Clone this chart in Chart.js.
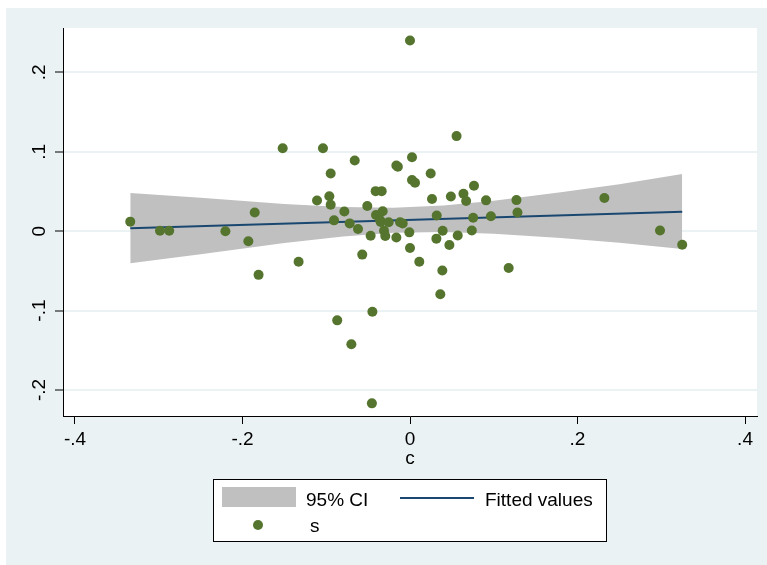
<!DOCTYPE html>
<html>
<head>
<meta charset="utf-8">
<script src="https://cdn.jsdelivr.net/npm/chart.js@4.4.1/dist/chart.umd.min.js"></script>
<style>
  html, body { margin: 0; padding: 0; background: #ffffff; }
  canvas { display: block; }
</style>
</head>
<body>
<canvas id="chart" width="767" height="565"></canvas>
<script>
// Observations: s plotted against c
const cValues = [
  -0.334, -0.2985, -0.2875, -0.2204, -0.193, -0.1854, -0.1808, -0.152, -0.133, -0.111,
  -0.1039, -0.0947, -0.0963, -0.0947, -0.0907, -0.0869, -0.0784, -0.072, -0.070, -0.066,
  -0.0621, -0.057, -0.051, -0.047, -0.0449, -0.0455, -0.041, -0.0338, -0.0406, -0.0326,
  -0.0358, -0.035, -0.0255, -0.031, -0.0295, -0.0163, -0.0145, -0.0163, -0.0119, -0.0087,
  -0.0008, 0.0, 0.0, 0.0024, 0.0024, 0.006, 0.0111, 0.0247, 0.0263, 0.0315,
  0.0319, 0.0362, 0.0386, 0.039, 0.047, 0.0488, 0.0556, 0.057, 0.0638, 0.067,
  0.0738, 0.0754, 0.0764, 0.0908, 0.0966, 0.1178, 0.1271, 0.1283, 0.2321, 0.2985,
  0.325
];
const sValues = [
  0.0120, 0.0005, 0.0005, 0.0, -0.0127, 0.0236, -0.055, 0.1045, -0.0385, 0.0387,
  0.1045, 0.0727, 0.044, 0.0332, 0.0136, -0.1123, 0.0247, 0.0098, -0.1423, 0.089,
  0.0027, -0.0295, 0.0316, -0.0057, -0.1014, -0.2168, 0.0504, 0.0504, 0.0203, 0.0250,
  0.0140, 0.0117, 0.0113, 0.0006, -0.0061, 0.0827, 0.0810, -0.008, 0.0113, 0.0098,
  -0.0015, 0.240, -0.0212, 0.0930, 0.0645, 0.061, -0.0384, 0.0727, 0.0406, -0.0094,
  0.0198, -0.0795, -0.0496, 0.0006, -0.0175, 0.0436, 0.1197, -0.0055, 0.0471, 0.0380,
  0.0008, 0.0168, 0.0571, 0.0388, 0.0188, -0.0464, 0.0391, 0.0236, 0.0418, 0.0008,
  -0.0172
];

// Linear fit end points
const fitC = [-0.334, 0.325];
const fitS = [0.0038, 0.0246];

// 95% confidence band edges
const bandC     = [-0.334, -0.25, -0.15, -0.08, -0.02, 0.04, 0.10, 0.18, 0.25, 0.325];
const bandUpper = [0.0480, 0.0420, 0.0343, 0.0304, 0.0296, 0.0324, 0.0384, 0.0489, 0.0591, 0.0721];
const bandLower = [-0.0405, -0.0290, -0.0149, -0.0066, -0.0020, -0.0010, -0.0032, -0.0087, -0.0145, -0.0226];

// Axis ticks
const xTickValues = [-0.4, -0.2, 0, 0.2, 0.4];
const xTickLabels = ['-.4', '-.2', '0', '.2', '.4'];
const yTickValues = [-0.2, -0.1, 0, 0.1, 0.2];
const yTickLabels = ['-.2', '-.1', '0', '.1', '.2'];

const FONT = '"Liberation Sans", Arial, Helvetica, sans-serif';
const BG = '#eaf2f3';
const NAVY = '#1a476f';
const GREEN = '#55752f';
const BAND = '#c0c0c0';

Chart.defaults.font.family = FONT;
Chart.defaults.font.size = 19;
Chart.defaults.color = '#000000';

const zip = (xs, ys) => xs.map((x, i) => ({ x: x, y: ys[i] }));

// Graph region and plot region backgrounds
const backgroundPlugin = {
  id: 'regions',
  beforeDraw(chart) {
    const { ctx, chartArea } = chart;
    ctx.save();
    ctx.fillStyle = '#ffffff';
    ctx.fillRect(0, 0, chart.width, chart.height);
    ctx.fillStyle = BG;
    ctx.fillRect(6, 8, chart.width - 6, chart.height - 8);
    ctx.fillStyle = '#ffffff';
    ctx.fillRect(chartArea.left, chartArea.top, chartArea.right - chartArea.left, chartArea.bottom - chartArea.top);
    ctx.restore();
  }
};

// Vertical (rotated) y tick labels and the boxed legend
const annotatePlugin = {
  id: 'annotate',
  afterDraw(chart) {
    const { ctx } = chart;
    const yScale = chart.scales.y;
    ctx.save();
    ctx.font = '19px ' + FONT;
    ctx.fillStyle = '#000000';
    ctx.textAlign = 'center';
    ctx.textBaseline = 'middle';
    yScale.ticks.forEach((t, i) => {
      const py = yScale.getPixelForValue(t.value);
      ctx.save();
      ctx.translate(40, py);
      ctx.rotate(-Math.PI / 2);
      ctx.fillText(yTickLabels[i], 0, 0);
      ctx.restore();
    });

    const ds = chart.data.datasets;
    // legend frame
    ctx.fillStyle = '#ffffff';
    ctx.fillRect(214, 480, 392, 61);
    ctx.strokeStyle = '#000000';
    ctx.lineWidth = 1;
    ctx.strokeRect(213.5, 479.5, 393, 62);
    // band key
    ctx.fillStyle = ds[2].backgroundColor;
    ctx.fillRect(222, 487, 74, 20);
    ctx.fillStyle = '#000000';
    ctx.textAlign = 'left';
    ctx.textBaseline = 'alphabetic';
    ctx.fillText(ds[2].label, 306, 506);
    // fitted line key
    ctx.strokeStyle = ds[1].borderColor;
    ctx.lineWidth = 2;
    ctx.beginPath();
    ctx.moveTo(400, 498);
    ctx.lineTo(474, 498);
    ctx.stroke();
    ctx.fillText(ds[1].label, 485, 506);
    // marker key
    ctx.fillStyle = ds[0].backgroundColor;
    ctx.beginPath();
    ctx.arc(258, 525, 5, 0, Math.PI * 2);
    ctx.fill();
    ctx.fillStyle = '#000000';
    ctx.fillText(ds[0].label, 310, 532);
    ctx.restore();
  }
};

new Chart(document.getElementById('chart'), {
  type: 'scatter',
  data: {
    datasets: [
      {
        label: 's',
        data: zip(cValues, sValues),
        backgroundColor: GREEN,
        borderColor: GREEN,
        pointRadius: 5,
        pointBorderWidth: 0,
        pointHoverRadius: 5,
        order: 0
      },
      {
        label: 'Fitted values',
        data: zip(fitC, fitS),
        showLine: true,
        borderColor: NAVY,
        borderWidth: 2,
        pointRadius: 0,
        fill: false,
        order: 1
      },
      {
        label: '95% CI',
        data: zip(bandC, bandUpper),
        showLine: true,
        borderWidth: 0,
        borderColor: BAND,
        backgroundColor: BAND,
        pointRadius: 0,
        fill: '+1',
        order: 2
      },
      {
        label: '95% CI lower',
        data: zip(bandC, bandLower),
        showLine: true,
        borderWidth: 0,
        borderColor: BAND,
        backgroundColor: BAND,
        pointRadius: 0,
        fill: false,
        order: 3
      }
    ]
  },
  options: {
    responsive: false,
    animation: false,
    layout: { padding: { left: 0, top: 28, right: 10, bottom: 95 } },
    plugins: {
      legend: { display: false },
      tooltip: { enabled: false }
    },
    scales: {
      x: {
        type: 'linear',
        min: -0.4143,
        max: 0.4143,
        afterBuildTicks(scale) { scale.ticks = xTickValues.map(v => ({ value: v })); },
        afterFit(scale) { scale.height = 54; },
        ticks: {
          padding: 4,
          maxRotation: 0,
          callback: (value, index) => xTickLabels[index],
          font: { size: 19 },
          color: '#000000'
        },
        grid: {
          drawOnChartArea: false,
          tickLength: 8,
          tickColor: '#000000',
          tickWidth: 1
        },
        border: { display: true, color: '#000000', width: 1 },
        title: {
          display: true,
          text: 'c',
          font: { size: 19 },
          color: '#000000',
          padding: { top: 0, bottom: 0 }
        }
      },
      y: {
        type: 'linear',
        min: -0.2327,
        max: 0.2558,
        afterBuildTicks(scale) { scale.ticks = yTickValues.map(v => ({ value: v })); },
        afterFit(scale) { scale.width = 63; },
        ticks: { display: false },
        grid: {
          color: BG,
          lineWidth: 2,
          tickLength: 8,
          tickColor: '#000000',
          tickWidth: 1
        },
        border: { display: true, color: '#000000', width: 1 }
      }
    }
  },
  plugins: [backgroundPlugin, annotatePlugin]
});
</script>
</body>
</html>
